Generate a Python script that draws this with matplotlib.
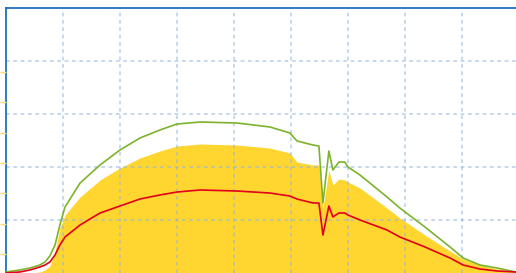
import numpy as np
import matplotlib.pyplot as plt

# hours of day
hours = [4.00, 4.49, 4.84, 5.19, 5.37, 5.54, 5.72, 5.89, 6.07, 6.60,
         7.30, 8.00, 8.70, 9.40, 10.00, 10.81, 12.11, 13.26, 13.96, 14.21,
         14.77, 14.98, 15.12, 15.33, 15.47, 15.68, 15.89, 16.00, 16.42, 17.37,
         17.82, 18.70, 19.58, 20.04, 20.63, 21.23, 21.89]

# power (W)
green = [19, 57, 94, 151, 208, 321, 528, 906, 1245, 1698,
         2038, 2321, 2547, 2698, 2811, 2849, 2830, 2755, 2642, 2491,
         2415, 2396, 1321, 2302, 1943, 2094, 2094, 2000, 1849, 1434,
         1226, 868, 491, 283, 151, 94, 19]
red = [0, 19, 57, 113, 151, 208, 340, 528, 679, 906,
       1132, 1264, 1396, 1472, 1528, 1566, 1547, 1509, 1453, 1396,
       1321, 1321, 717, 1264, 1057, 1132, 1132, 1094, 1000, 811,
       679, 491, 283, 151, 75, 38, 19]
yellow = [0, 0, 0, 19, 57, 132, 396, 849, 1094, 1434,
          1755, 1981, 2170, 2302, 2396, 2434, 2415, 2358, 2264, 2094,
          2038, 2038, 1226, 1943, 1660, 1774, 1755, 1717, 1604, 1226,
          1038, 717, 415, 264, 151, 75, 19]

hour_grid = [6, 8, 10, 12, 14, 16, 18, 20]
power_grid = [1000, 2000, 3000, 4000]
energy_ticks = [1, 2, 3, 4, 5, 6, 7]

fig = plt.figure(figsize=(5.16, 2.73), dpi=100)
ax = fig.add_axes([6 / 516, 0, 1 - 6 / 516, 265 / 273])

ax.fill_between(hours, 0, yellow, color='#ffd530', linewidth=0, zorder=1)
ax.plot(hours, green, color='#7cb32b', linewidth=1.2, zorder=3)
ax.plot(hours, red, color='#e3001b', linewidth=1.2, zorder=3)

ax.set_xlim(4, 21.895)
ax.set_ylim(0, 5000)
ax.set_xticks(hour_grid)
ax.set_yticks(power_grid)
ax.tick_params(length=0, labelleft=False, labelbottom=False)
ax.grid(True, color='#8fb4dc', alpha=0.6, linestyle=(0, (2.2, 2.2)), linewidth=1.2, zorder=2)

for s in ['right', 'bottom']:
    ax.spines[s].set_visible(False)
for s in ['left', 'top']:
    ax.spines[s].set_color('#1f6fc0')
    ax.spines[s].set_linewidth(1.3)

ax2 = ax.twinx()
ax2.set_ylim(0.373, 9.11)
ax2.set_yticks(energy_ticks)
ax2.yaxis.tick_left()
ax2.tick_params(axis='y', colors='#ffd966', length=4, width=1, labelleft=False, labelright=False)
for s in ax2.spines.values():
    s.set_visible(False)

fig.savefig('out.png', dpi=100)
